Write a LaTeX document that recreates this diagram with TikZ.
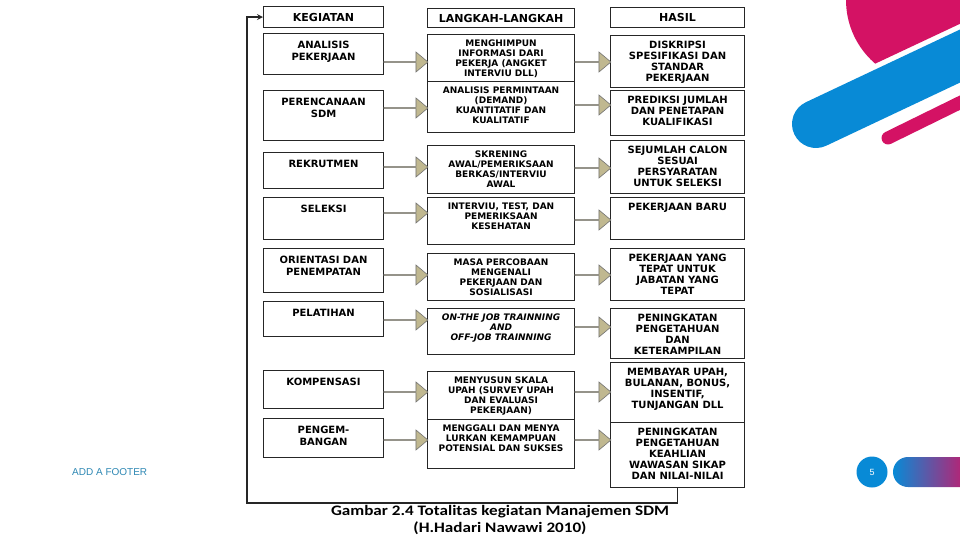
\documentclass[tikz,border=0pt]{standalone}
\usepackage{fontspec}
\usetikzlibrary{shapes.arrows}
\newfontfamily\boxfont{DejaVu Sans}
\newfontfamily\capfont{Carlito}[FakeStretch=1.18]
\newfontfamily\footfont{Liberation Sans}
\definecolor{slideblue}{RGB}{8,138,214}
\definecolor{slidepink}{RGB}{212,18,100}
\definecolor{arrowtan}{RGB}{192,184,144}
\definecolor{footerblue}{RGB}{46,136,180}

\begin{document}
\begin{tikzpicture}[x=1pt,y=-1pt,
  box/.style={draw=black!85, line width=1.1pt, fill=white, anchor=north west, minimum width=#1, inner sep=0pt, font=\boxfont\bfseries\fontsize{11}{13}\selectfont},
  ltext/.style={anchor=north, yshift=-8pt, align=center, inner sep=0pt, font=\boxfont\bfseries\fontsize{10}{12}\selectfont},
  mtext/.style={anchor=north, yshift=-6pt, align=center, inner sep=0pt, font=\boxfont\bfseries\fontsize{9}{10}\selectfont},
  rtext/.style={anchor=north, yshift=-6pt, align=center, inner sep=0pt, font=\boxfont\bfseries\fontsize{10}{11}\selectfont},
  fatarrow/.style={single arrow, draw=black!55, fill=arrowtan, line width=0.6pt, minimum width=20pt, single arrow head extend=5pt, single arrow tip angle=80, inner sep=0pt, minimum height=#1}]
\useasboundingbox (0,0) rectangle (960,540);
\fill[white] (0,0) rectangle (960,540);

% slide decoration
\begin{scope}
\clip (0,0) rectangle (960,540);
\begin{scope}
\clip (800,-10) -- (1000,-10) -- (1000,5) -- (800,99) -- cycle;
\fill[slidepink] (930,0) circle (84);
\end{scope}
\draw[slideblue, line width=48pt, line cap=round] (816,124) -- (1030,23);
\draw[slidepink, line width=13pt, line cap=round] (888,138) -- (1000,83);
\shade[left color=slideblue, right color=slidepink, rounded corners=15pt] (893,457) rectangle (975,487);
\end{scope}
\node[circle, fill=slideblue, minimum size=31pt, inner sep=0pt, text=white, font=\footfont\fontsize{9}{9}\selectfont] (pg) at (872,472) {5};
\node[anchor=west, inner sep=0pt, text=footerblue, font=\footfont\fontsize{10}{12}\selectfont] (foot) at (72,472) {ADD A FOOTER};

% headers
\node[box=120, minimum height=21] (kg) at (263,6) {KEGIATAN};
\node[box=147, minimum height=19] (lk) at (427,8) {LANGKAH-LANGKAH};
\node[box=134, minimum height=20] (hs) at (610,7) {HASIL};

% kegiatan
\node[box=120, minimum height=41, label={[ltext]north:ANALISIS\\PEKERJAAN}] (l1) at (263,33) {};
\node[box=120, minimum height=50, label={[ltext]north:PERENCANAAN\\SDM}] (l2) at (263,90) {};
\node[box=120, minimum height=36, label={[ltext]north:REKRUTMEN}] (l3) at (263,152) {};
\node[box=120, minimum height=42, label={[ltext]north:SELEKSI}] (l4) at (263,197) {};
\node[box=120, minimum height=44, label={[ltext]north:ORIENTASI DAN\\PENEMPATAN}] (l5) at (263,248) {};
\node[box=120, minimum height=35, label={[ltext]north:PELATIHAN}] (l6) at (263,301) {};
\node[box=120, minimum height=38, label={[ltext]north:KOMPENSASI}] (l7) at (263,370) {};
\node[box=120, minimum height=39, label={[ltext]north:PENGEM-\\BANGAN}] (l8) at (263,418) {};

% langkah
\node[box=147, minimum height=47, label={[mtext]north:MENGHIMPUN\\INFORMASI DARI\\PEKERJA (ANGKET\\INTERVIU DLL)}] (m1) at (427,34) {};
\node[box=147, minimum height=51, label={[mtext]north:ANALISIS PERMINTAAN\\(DEMAND)\\KUANTITATIF DAN\\KUALITATIF}] (m2) at (427,81) {};
\node[box=147, minimum height=48, label={[mtext]north:SKRENING\\AWAL/PEMERIKSAAN\\BERKAS/INTERVIU\\AWAL}] (m3) at (427,145) {};
\node[box=147, minimum height=47, label={[mtext]north:INTERVIU, TEST, DAN\\PEMERIKSAAN\\KESEHATAN}] (m4) at (427,197) {};
\node[box=147, minimum height=47, label={[mtext]north:MASA PERCOBAAN\\MENGENALI\\PEKERJAAN DAN\\SOSIALISASI}] (m5) at (427,253) {};
\node[box=147, minimum height=46, label={[mtext, font=\boxfont\bfseries\itshape\fontsize{9}{10}\selectfont]north:ON-THE JOB TRAINNING\\AND\\OFF-JOB TRAINNING}] (m6) at (427,308) {};
\node[box=147, minimum height=48, label={[mtext]north:MENYUSUN SKALA\\UPAH (SURVEY UPAH\\DAN EVALUASI\\PEKERJAAN)}] (m7) at (427,371) {};
\node[box=147, minimum height=49, label={[mtext]north:MENGGALI DAN MENYA\\LURKAN KEMAMPUAN\\POTENSIAL DAN SUKSES}] (m8) at (427,419) {};

% hasil
\node[box=134, minimum height=52, label={[rtext]north:DISKRIPSI\\SPESIFIKASI DAN\\STANDAR\\PEKERJAAN}] (r1) at (610,35) {};
\node[box=134, minimum height=45, label={[rtext]north:PREDIKSI JUMLAH\\DAN PENETAPAN\\KUALIFIKASI}] (r2) at (610,90) {};
\node[box=134, minimum height=53, label={[rtext]north:SEJUMLAH CALON\\SESUAI\\PERSYARATAN\\UNTUK SELEKSI}] (r3) at (610,140) {};
\node[box=134, minimum height=42, label={[rtext]north:PEKERJAAN BARU}] (r4) at (610,197) {};
\node[box=134, minimum height=52, label={[rtext]north:PEKERJAAN YANG\\TEPAT UNTUK\\JABATAN YANG\\TEPAT}] (r5) at (610,248) {};
\node[box=134, minimum height=50, label={[rtext]north:PENINGKATAN\\PENGETAHUAN\\DAN\\KETERAMPILAN}] (r6) at (610,308) {};
\node[box=134, minimum height=60, label={[rtext]north:MEMBAYAR UPAH,\\BULANAN, BONUS,\\INSENTIF,\\TUNJANGAN DLL}] (r7) at (610,362) {};
\node[box=134, minimum height=65, label={[rtext]north:PENINGKATAN\\PENGETAHUAN\\KEAHLIAN\\WAWASAN SIKAP\\DAN NILAI-NILAI}] (r8) at (610,422) {};

% block arrows
\path (l1.east |- 0,62) -- (m1.west |- 0,62) node[fatarrow=44, midway] (a1) {};
\path (l2.east |- 0,108) -- (m2.west |- 0,108) node[fatarrow=44, midway] (a2) {};
\path (l3.east |- 0,167) -- (m3.west |- 0,167) node[fatarrow=44, midway] (a3) {};
\path (l4.east |- 0,213) -- (m4.west |- 0,213) node[fatarrow=44, midway] (a4) {};
\path (l5.east |- 0,275) -- (m5.west |- 0,275) node[fatarrow=44, midway] (a5) {};
\path (l6.east |- 0,320) -- (m6.west |- 0,320) node[fatarrow=44, midway] (a6) {};
\path (l7.east |- 0,392) -- (m7.west |- 0,392) node[fatarrow=44, midway] (a7) {};
\path (l8.east |- 0,440) -- (m8.west |- 0,440) node[fatarrow=44, midway] (a8) {};
\path (m1.east |- 0,62) -- (r1.west |- 0,62) node[fatarrow=36, midway] (b1) {};
\path (m2.east |- 0,105) -- (r2.west |- 0,105) node[fatarrow=36, midway] (b2) {};
\path (m3.east |- 0,168) -- (r3.west |- 0,168) node[fatarrow=36, midway] (b3) {};
\path (m4.east |- 0,220) -- (r4.west |- 0,220) node[fatarrow=36, midway] (b4) {};
\path (m5.east |- 0,275) -- (r5.west |- 0,275) node[fatarrow=36, midway] (b5) {};
\path (m6.east |- 0,327) -- (r6.west |- 0,327) node[fatarrow=36, midway] (b6) {};
\path (m7.east |- 0,392) -- (r7.west |- 0,392) node[fatarrow=36, midway] (b7) {};
\path (m8.east |- 0,440) -- (r8.west |- 0,440) node[fatarrow=36, midway] (b8) {};

% feedback loop
\coordinate (loop) at (247,503);
\draw[line width=1.6pt, black!85, -stealth] (r8.south) |- (loop) |- (kg.west);

\node[align=center, font=\capfont\bfseries\fontsize{14.5}{17}\selectfont] (cap) at (500,520) {Gambar 2.4 Totalitas kegiatan Manajemen SDM\\(H.Hadari Nawawi 2010)};
\end{tikzpicture}
\end{document}
